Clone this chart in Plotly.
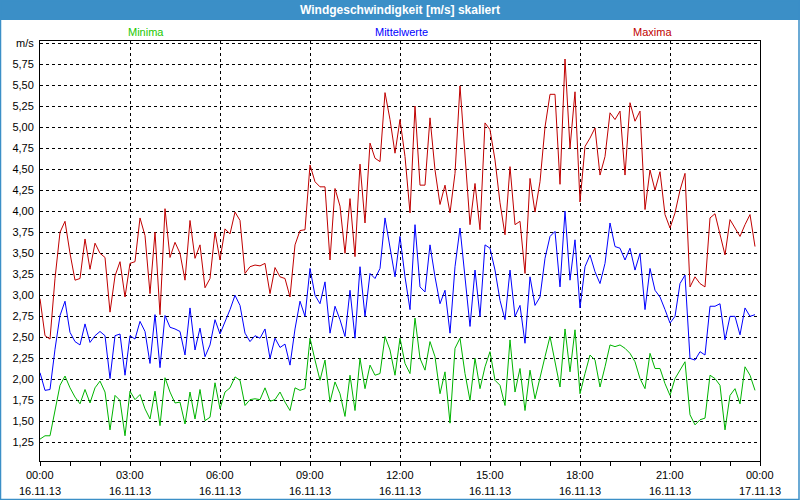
import pandas as pd
import plotly.graph_objects as go

# ---- data (10-minute values, 16.11.13 00:00 .. 23:50) ----
maxima = [2.96, 2.52, 2.48, 3.2, 3.75, 3.88, 3.5, 3.18, 3.2, 3.67, 3.31, 3.62, 3.5, 3.45, 2.8, 3.23, 3.4, 2.98,
          3.38, 3.4, 3.92, 3.71, 3.02, 3.75, 2.77, 4.03, 3.45, 3.63, 3.5, 3.18, 3.89, 3.44, 3.6, 3.09, 3.2, 3.75,
          3.42, 3.79, 3.73, 3.99, 3.89, 3.26, 3.34, 3.36, 3.35, 3.38, 3.02, 3.33, 3.22, 3.2, 2.98, 3.6, 3.77,
          3.78, 4.55, 4.35, 4.29, 4.29, 3.42, 4.27, 4.06, 3.5, 4.15, 3.46, 4.56, 3.86, 4.81, 4.63, 4.59, 5.41,
          5.09, 4.69, 5.09, 4.65, 3.98, 5.25, 4.31, 4.31, 5.11, 4.49, 4.08, 4.31, 3.98, 4.45, 5.49, 4.61, 3.84,
          4.33, 3.78, 5.05, 4.97, 4.61, 4.1, 3.72, 4.53, 3.84, 3.88, 3.26, 4.39, 3.99,
          4.35, 5.0, 5.39, 5.39, 4.32, 5.81, 4.75, 5.42, 4.11, 4.77, 4.87, 4.99, 4.43, 4.65, 5.17, 5.09, 5.19,
          4.43, 5.29, 5.07, 5.19, 4.02, 4.49, 4.25, 4.47, 3.96, 3.8, 3.98, 4.25, 4.45, 3.1, 3.22, 3.14, 3.1,
          3.92, 3.97, 3.74, 3.48, 3.9, 3.8, 3.7, 3.84, 3.96, 3.58]

mittelwerte = [2.08, 1.87, 1.88, 2.36, 2.76, 2.93, 2.56, 2.45, 2.41, 2.66, 2.44, 2.52, 2.57, 2.52, 2.01, 2.52,
               2.54, 2.05, 2.52, 2.48, 2.69, 2.57, 2.19, 2.77, 2.14, 2.76, 2.62, 2.6, 2.57, 2.29, 2.85, 2.35,
               2.61, 2.27, 2.41, 2.71, 2.54, 2.68, 2.83, 3.0, 2.88, 2.55, 2.45, 2.52, 2.49, 2.6, 2.25, 2.49,
               2.38, 2.42, 2.17, 2.6, 2.93,
               2.75, 3.32, 3.0, 2.9, 3.16, 2.55, 2.87, 2.71, 2.51, 3.06, 2.49, 3.34, 2.75, 3.26, 3.2, 3.32, 3.92,
               3.58, 3.22, 3.7, 3.22, 2.83, 3.84, 3.1, 3.04, 3.6, 3.22, 2.9, 3.06, 2.55, 3.34, 3.8, 3.22, 2.63,
               3.3, 2.75, 3.6, 3.56, 3.3, 2.94, 2.71, 3.3, 2.75, 2.88, 2.43, 3.22, 2.88, 2.98,
               3.44, 3.7, 3.76, 3.1, 4.0, 3.18, 3.66, 2.85, 3.34, 3.48, 3.28, 3.14, 3.38, 3.86, 3.58, 3.56, 3.42,
               3.56, 3.3, 3.5, 2.83, 3.32, 3.06, 2.98, 2.83, 2.67, 2.75, 3.14, 3.24, 2.25, 2.23, 2.33, 2.29,
               2.87, 2.87, 2.9, 2.47, 2.75, 2.75, 2.53, 2.85, 2.75, 2.77]

minima = [1.29, 1.33, 1.33, 1.65, 1.93, 2.04, 1.9, 1.79, 1.71, 1.88, 1.72, 1.9, 1.98, 1.85, 1.4, 1.81, 1.75,
          1.33, 1.86, 1.76, 1.82, 1.65, 1.53, 1.86, 1.45, 2.02, 1.85, 1.72, 1.73, 1.47, 1.85, 1.53, 1.88, 1.51,
          1.55, 1.96, 1.65, 1.85, 1.9, 2.03, 1.99, 1.69, 1.76, 1.77, 1.76, 1.9, 1.74, 1.76, 1.85, 1.73, 1.63,
          1.9, 1.87,
          1.89, 2.49, 2.23, 1.99, 2.23, 1.73, 1.97, 1.83, 1.56, 2.05, 1.63, 2.25, 1.89, 2.17, 2.05, 2.07, 2.51,
          2.35, 2.05, 2.49, 2.19, 2.07, 2.73, 2.25, 2.11, 2.45, 2.27, 1.83, 2.09, 1.48, 2.37, 2.49, 2.07, 1.75,
          2.25, 1.89, 2.15, 2.33, 1.99, 1.93, 1.69, 2.47, 1.85, 2.13, 1.63, 2.11, 1.77, 2.03,
          2.27, 2.51, 2.21, 1.91, 2.6, 2.09, 2.59, 1.83, 2.07, 2.29, 2.23, 1.91, 2.15, 2.41, 2.39, 2.41, 2.37,
          2.31, 2.21, 2.01, 1.89, 2.31, 2.13, 2.13, 1.95, 1.81, 2.01, 2.11, 2.21, 1.58, 1.46, 1.52, 1.54, 2.05,
          2.01, 1.93, 1.4, 1.81, 1.89, 1.71, 2.15, 2.05, 1.87]

start = "2013-11-16 00:00"
end = "2013-11-17 00:00"
times = pd.date_range(start, periods=144, freq="10min")

x_tick_times = pd.date_range(start, end, freq="3h")
x_time_labels = [t.strftime("%H:%M") for t in x_tick_times]
x_date_labels = [t.strftime("%d.%m.%y") for t in x_tick_times]

y_tick_vals = [1.25, 1.5, 1.75, 2.0, 2.25, 2.5, 2.75, 3.0, 3.25, 3.5, 3.75, 4.0, 4.25, 4.5, 4.75, 5.0, 5.25, 5.5, 5.75, 6.0]
y_tick_labels = ["1,25", "1,50", "1,75", "2,00", "2,25", "2,50", "2,75", "3,00", "3,25", "3,50", "3,75",
                 "4,00", "4,25", "4,50", "4,75", "5,00", "5,25", "5,50", "5,75", "m/s"]

title = "Windgeschwindigkeit [m/s] skaliert"
series_names = ["Minima", "Mittelwerte", "Maxima"]
series_colors = ["#00B400", "#0000FF", "#C00000"]
label_colors = ["#22C800", "#0000FF", "#C00000"]

FONT = "Liberation Sans, Arial, sans-serif"
W, H = 800, 500
L, R, T, B = 40, 40, 41, 39
PW, PH = W - L - R, H - T - B


def px(xp):
    return (xp - L) / PW


def py(yp):
    return (H - B - yp) / PH


fig = go.Figure()
for name, vals, col in zip(series_names, [minima, mittelwerte, maxima], series_colors):
    fig.add_trace(go.Scatter(x=times[:len(vals)], y=vals, mode="lines", name=name,
                             line=dict(color=col, width=1), hoverinfo="skip"))

fig.update_layout(
    width=W, height=H,
    margin=dict(l=L, r=R, t=T, b=B, pad=0),
    paper_bgcolor="white", plot_bgcolor="white",
    showlegend=False,
    font=dict(family=FONT, size=11, color="#000000"),
    xaxis=dict(
        type="date", range=[start, end],
        tickmode="array", tickvals=list(x_tick_times), ticktext=x_time_labels,
        showticklabels=False,
        ticks="outside", ticklen=4, tickwidth=1, tickcolor="black",
        showgrid=True, gridcolor="black", gridwidth=1, griddash="3px,3px",
        showline=True, linecolor="black", linewidth=1, mirror=True, zeroline=False,
        minor=dict(tickmode="linear", tick0=start, dtick=3600000, ticks="outside",
                   ticklen=4, tickcolor="black", showgrid=False),
        fixedrange=True,
    ),
    yaxis=dict(
        range=[1.03, 6.024],
        tickmode="array", tickvals=y_tick_vals, ticktext=y_tick_labels,
        ticks="", showgrid=True, gridcolor="black", gridwidth=1, griddash="3px,3px",
        showline=True, linecolor="black", linewidth=1, mirror=True, zeroline=False,
        tickfont=dict(family=FONT, size=11, color="#000000"),
        ticklabelstandoff=3,
        fixedrange=True,
    ),
)

# two-line x tick labels (time and date) under each 3-hour tick
for t, tl, dl in zip(x_tick_times, x_time_labels, x_date_labels):
    fig.add_annotation(text=tl, xref="x", yref="paper", x=t, y=py(475),
                       xanchor="center", yanchor="middle", showarrow=False,
                       font=dict(family=FONT, size=11, color="#000000"))
    fig.add_annotation(text=dl, xref="x", yref="paper", x=t, y=py(491),
                       xanchor="center", yanchor="middle", showarrow=False,
                       font=dict(family=FONT, size=11, color="#000000"))

# window frame and title bar
fig.add_shape(type="rect", xref="paper", yref="paper",
              x0=px(0), x1=px(W), y0=py(20), y1=py(0),
              fillcolor="#3B8FC7", line=dict(width=0), layer="below")
fig.add_shape(type="rect", xref="paper", yref="paper",
              x0=px(0.5), x1=px(W - 1), y0=py(H - 0.5), y1=py(0.5),
              fillcolor="rgba(0,0,0,0)", line=dict(color="#3B8FC7", width=1.5), layer="above")

fig.add_annotation(text="<b>" + title + "</b>", xref="paper", yref="paper",
                   x=0.5, y=py(10), xanchor="center", yanchor="middle", showarrow=False,
                   font=dict(family=FONT, size=12, color="white"))

for name, xc, col in zip(series_names, [146, 401, 652], label_colors):
    fig.add_annotation(text=name, xref="paper", yref="paper",
                       x=px(xc), y=py(32), xanchor="center", yanchor="middle", showarrow=False,
                       font=dict(family=FONT, size=11, color=col))

fig.write_html("out.html", config={"displayModeBar": False},
               post_script="document.body.style.margin='0';document.body.style.overflow='hidden';")
